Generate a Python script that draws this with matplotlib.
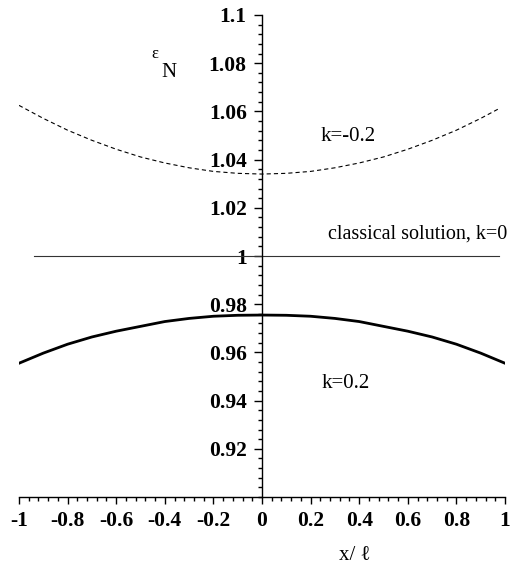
import matplotlib
matplotlib.use("Agg")
import matplotlib.pyplot as plt
import numpy as np
from matplotlib.ticker import MultipleLocator, FixedLocator

plt.rcParams['lines.scale_dashes'] = False

# data
x_neg = [-1.0, -0.9, -0.8, -0.7, -0.6, -0.5, -0.4, -0.3, -0.2, -0.1, 0.0,
         0.1, 0.2, 0.3, 0.4, 0.5, 0.6, 0.7, 0.8, 0.9, 0.98]
eps_kneg = [1.0625, 1.0571, 1.0522, 1.0480, 1.0443, 1.0411, 1.0386, 1.0366, 1.0351, 1.0343, 1.0340,
            1.0343, 1.0351, 1.0366, 1.0386, 1.0411, 1.0443, 1.0480, 1.0522, 1.0571, 1.0614]

x_pos = [-1.0, -0.9, -0.8, -0.7, -0.6, -0.5, -0.4, -0.3, -0.2, -0.1, 0.0,
         0.1, 0.2, 0.3, 0.4, 0.5, 0.6, 0.7, 0.8, 0.9, 1.0]
eps_kpos = [0.9555, 0.9597, 0.9634, 0.9664, 0.9688, 0.9708, 0.9728, 0.9741, 0.9750, 0.9754, 0.9755,
            0.9754, 0.9750, 0.9741, 0.9728, 0.9708, 0.9688, 0.9664, 0.9634, 0.9597, 0.9555]

x_cls = [-0.94, 0.975]
eps_cls = [1.0, 1.0]

x_ticks = [-1, -0.8, -0.6, -0.4, -0.2, 0, 0.2, 0.4, 0.6, 0.8, 1]
x_tick_labels = ["-1", "-0.8", "-0.6", "-0.4", "-0.2", "0", "0.2", "0.4", "0.6", "0.8", "1"]
y_ticks = [0.92, 0.94, 0.96, 0.98, 1.0, 1.02, 1.04, 1.06, 1.08, 1.1]
y_tick_labels = ["0.92", "0.94", "0.96", "0.98", "1", "1.02", "1.04", "1.06", "1.08", "1.1"]

serif = ['Liberation Serif', 'DejaVu Serif']

fig = plt.figure(figsize=(5.14, 5.66), dpi=100)
ax = fig.add_axes([19/514, 1 - 497/566, (505 - 19)/514, (497 - 15)/566])
ax.set_xlim(-1, 1)
ax.set_ylim(0.9, 1.1)

ax.plot(x_neg, eps_kneg, color='black', lw=0.8, dashes=(3.0, 2.2))
ax.plot(x_cls, eps_cls, color='#333333', lw=0.8)
ax.plot(x_pos, eps_kpos, color='black', lw=2.0)

for s in ['top', 'right']:
    ax.spines[s].set_visible(False)
ax.spines['left'].set_position(('data', 0))
ax.spines['left'].set_linewidth(1.0)
ax.spines['bottom'].set_linewidth(1.0)

ax.xaxis.set_major_locator(FixedLocator(x_ticks))
ax.set_xticklabels(x_tick_labels)
ax.xaxis.set_minor_locator(MultipleLocator(0.04))
ax.yaxis.set_major_locator(FixedLocator(y_ticks))
ax.set_yticklabels(y_tick_labels)
ax.yaxis.set_minor_locator(MultipleLocator(0.004))

ax.tick_params(axis='x', which='major', direction='out', length=5, width=1.0, pad=5)
ax.tick_params(axis='x', which='minor', direction='out', length=3, width=1.0)
ax.tick_params(axis='y', which='major', direction='out', length=6, width=1.0, pad=5)
ax.tick_params(axis='y', which='minor', direction='out', length=3, width=1.0)

for lab in ax.get_xticklabels() + ax.get_yticklabels():
    lab.set_family(serif)
    lab.set_fontweight('bold')
    lab.set_fontsize(15.5)

ax.text(0.354, 1.0494, "k=-0.2", family=serif, fontsize=15, ha='center', va='center')
ax.text(0.272, 1.0091, "classical solution, k=0", family=serif, fontsize=14.5, ha='left', va='center')
ax.text(0.346, 0.9473, "k=0.2", family=serif, fontsize=15, ha='center', va='center')
ax.text(-0.44, 1.0838, "ε", family=serif, fontsize=12, ha='center', va='center')
ax.text(-0.385, 1.0761, "N", family=serif, fontsize=15, ha='center', va='center')
fig.text(355/514, 1 - 555/566, "x/ ℓ", family=serif, fontsize=15, ha='center', va='center')

fig.savefig("out.png", dpi=100)
